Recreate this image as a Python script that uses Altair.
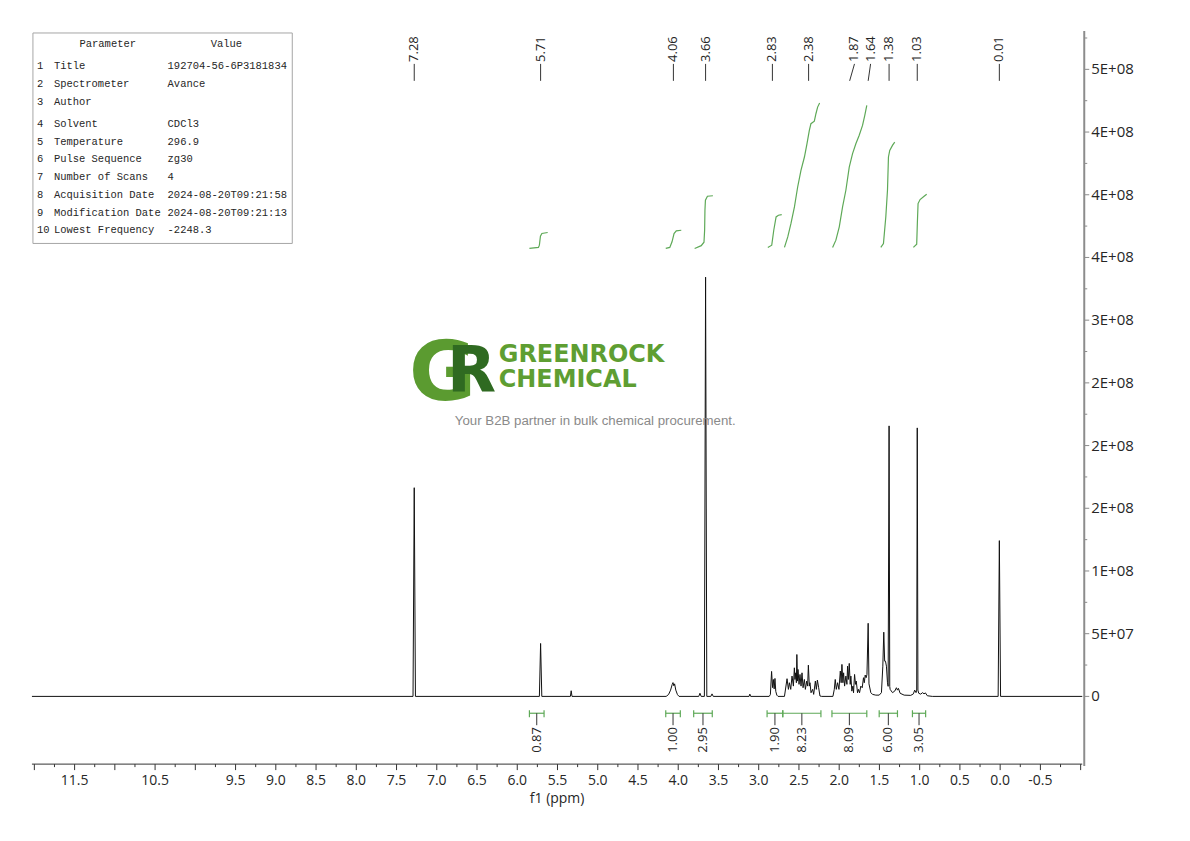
import pandas as pd
import altair as alt

# ---------------- data ----------------
# 1H NMR trace: chemical shift (ppm) and intensity (x1e6)
spec_ppm = [12.03,
            7.295, 7.28, 7.265,
            5.725, 5.71, 5.695,
            5.34, 5.33, 5.32,
            4.15, 4.12, 4.095, 4.075, 4.065, 4.055, 4.045, 4.03, 4.01, 3.99,
            3.745, 3.73, 3.715,
            3.675, 3.66, 3.645,
            3.595, 3.58, 3.565,
            3.12, 3.11, 3.10,
            2.87, 2.855, 2.84, 2.828, 2.818, 2.808, 2.798, 2.788, 2.775, 2.76,
            2.68, 2.648, 2.631, 2.619, 2.602, 2.586, 2.569, 2.557, 2.549, 2.540,
            2.532, 2.526, 2.518, 2.512, 2.499, 2.487, 2.474, 2.462, 2.449, 2.433,
            2.420, 2.404, 2.392, 2.383, 2.371, 2.363, 2.350, 2.330, 2.317, 2.296,
            2.284, 2.271, 2.255, 2.239, 2.218,
            2.078, 2.061, 2.049, 2.036, 2.020, 2.003, 1.986, 1.976, 1.966, 1.954,
            1.945, 1.933, 1.917, 1.904, 1.896, 1.886, 1.875, 1.863, 1.855, 1.843,
            1.830, 1.822, 1.809, 1.797, 1.788, 1.772, 1.760, 1.747, 1.731, 1.714,
            1.698, 1.688, 1.677, 1.665, 1.655, 1.64, 1.630, 1.607, 1.586, 1.545,
            1.503, 1.475, 1.458, 1.446, 1.435, 1.425, 1.413, 1.400, 1.392, 1.38,
            1.372, 1.367, 1.338, 1.310, 1.289, 1.276, 1.264, 1.243, 1.193, 1.111,
            1.078, 1.062, 1.045, 1.037, 1.03, 1.022, 1.012, 0.988, 0.963, 0.946,
            0.929, 0.905, 0.843,
            0.025, 0.01, -0.005,
            -1.02]
spec_int = [0,
            0, 166.4, 0,
            0, 42.2, 0,
            0, 4.5, 0,
            0, 1.5, 5, 9.5, 11, 8.5, 10, 5, 1.5, 0,
            0, 2.5, 0,
            0, 334.3, 0,
            0, 2, 0,
            0, 1.8, 0,
            0, 1.5, 19.9, 7, 13.5, 6, 14.3, 4, 1, 0,
            0, 14.1, 5.6, 10.9, 5.6, 16.2, 8.2, 22.8, 13.5, 18.8,
            10.9, 33.4, 12.2, 21.5, 9.6, 17.5, 8.2, 18.8, 6.9, 13.5,
            5.6, 12.2, 8.2, 24.9, 8.2, 10.9, 2.9, 5.6, 1.6, 12.2,
            5.6, 13.0, 6.9, 0.3, 0,
            0, 5.6, 13.5, 5.6, 10.9, 5.6, 20.2, 10.9, 25.5, 10.9,
            18.8, 8.2, 16.2, 9.6, 24.1, 13.5, 26.3, 9.6, 16.2, 4.2,
            8.2, 2.9, 17.5, 9.6, 12.2, 2.9, 5.6, 2.9, 8.2, 6.9,
            14.9, 10.9, 17.0, 14.9, 17.5, 58.3, 10, 3, 1.6, 1.0,
            1.0, 3, 24.1, 51.2, 28.1, 28.1, 24.1, 10.9, 8, 215.7,
            8, 5.6, 3, 4.2, 6.9, 5.0, 6.4, 2.5, 1.0, 0.8,
            2, 5, 3, 5, 214.1, 5, 2.5, 1.8, 3, 2,
            2.8, 0.5, 0,
            0, 124.2, 0,
            0]

# integral curves (one id per integrated region)
icurve_id = [1] * 6 + [2] * 6 + [3] * 8 + [4] * 6 + [5] * 14 + [6] * 12 + [7] * 8 + [8] * 7
icurve_ppm = [5.849, 5.737, 5.725, 5.712, 5.694, 5.622,
              4.155, 4.105, 4.077, 4.052, 4.024, 3.962,
              3.796, 3.714, 3.680, 3.672, 3.668, 3.662, 3.637, 3.569,
              2.887, 2.838, 2.813, 2.784, 2.755, 2.714,
              2.680, 2.639, 2.599, 2.556, 2.516, 2.475, 2.432, 2.400, 2.371, 2.351, 2.309, 2.289, 2.268, 2.243,
              2.082, 2.041, 1.999, 1.958, 1.917, 1.875, 1.834, 1.793, 1.751, 1.710, 1.682, 1.657,
              1.483, 1.450, 1.421, 1.400, 1.388, 1.372, 1.338, 1.310,
              1.078, 1.037, 1.029, 1.020, 0.995, 0.945, 0.913]
icurve_val = [357.2, 358.0, 359.8, 367.0, 369.1, 369.9,
              357.2, 358.0, 362.5, 369.1, 371.2, 371.7,
              357.2, 359.4, 362.2, 371.7, 387.7, 395.6, 398.8, 399.2,
              358.0, 359.8, 371.7, 382.3, 383.7, 384.2,
              358.0, 366.4, 377.1, 390.3, 406.2, 419.5, 430.1, 440.7, 451.3, 456.7, 458.7, 464.6, 469.9, 473.1,
              358.0, 363.8, 374.4, 390.3, 403.6, 422.1, 432.8, 440.7, 447.4, 455.3, 463.3, 471.2,
              358.0, 361.1, 382.3, 403.6, 430.1, 435.4, 439.4, 442.0,
              358.0, 360.6, 377.1, 393.0, 396.2, 398.8, 400.4]

peak_labels = ["7.28", "5.71", "4.06", "3.66", "2.83", "2.38", "1.87", "1.64", "1.38", "1.03", "0.01"]
peak_ppm = [7.28, 5.71, 4.06, 3.66, 2.83, 2.38, 1.87, 1.64, 1.38, 1.03, 0.01]
peak_label_ppm = [7.28, 5.71, 4.06, 3.66, 2.83, 2.38, 1.81, 1.61, 1.38, 1.03, 0.01]

int_labels = ["0.87", "1.00", "2.95", "1.90", "8.23", "8.09", "6.00", "3.05"]
int_start = [5.849, 4.155, 3.808, 2.896, 2.701, 2.090, 1.503, 1.090]
int_end = [5.667, 3.974, 3.577, 2.701, 2.227, 1.657, 1.276, 0.926]

param_nums = ["1", "2", "3", "4", "5", "6", "7", "8", "9", "10"]
param_names = ["Title", "Spectrometer", "Author", "Solvent", "Temperature",
               "Pulse Sequence", "Number of Scans", "Acquisition Date",
               "Modification Date", "Lowest Frequency"]
param_values = ["192704-56-6P3181834", "Avance", "", "CDCl3", "296.9", "zg30",
                "4", "2024-08-20T09:21:58", "2024-08-20T09:21:13", "-2248.3"]

x_major_ticks = [round(12.0 - 0.5 * i, 2) for i in range(27)]
x_minor_ticks = [round(11.75 - 0.5 * i, 2) for i in range(26)]
x_tick_labels = [11.5, 10.5, 9.5, 9.0, 8.5, 8.0, 7.5, 7.0, 6.5, 6.0, 5.5, 5.0,
                 4.5, 4.0, 3.5, 3.0, 2.5, 2.0, 1.5, 1.0, 0.5, 0.0, -0.5]
x_title = "f1 (ppm)"
y_major_ticks = [50 * i for i in range(11)]
y_minor_ticks = [25 + 50 * i for i in range(11)]
y_tick_labels = ["0", "5E+07", "1E+08", "2E+08", "2E+08", "2E+08", "3E+08",
                 "4E+08", "4E+08", "4E+08", "5E+08"]

logo_g, logo_r = "G", "R"
logo_line1, logo_line2 = "GREENROCK", "CHEMICAL"
tagline = "Your B2B partner in bulk chemical procurement."

# ---------------- tables ----------------
spec_df = pd.DataFrame({"ppm": spec_ppm, "val": spec_int, "idx": range(len(spec_ppm))})
icurve_df = pd.DataFrame({"ppm": icurve_ppm, "val": icurve_val, "cid": icurve_id,
                          "idx": range(len(icurve_ppm))})
peak_df = pd.DataFrame({"ppm": peak_ppm, "lppm": peak_label_ppm, "label": peak_labels})
int_df = pd.DataFrame({"start": int_start, "end": int_end, "label": int_labels})
int_df["mid"] = (int_df["start"] + int_df["end"]) / 2
ends_df = pd.DataFrame({"ppm": int_start + int_end})
xmajor_df = pd.DataFrame({"ppm": x_major_ticks})
xminor_df = pd.DataFrame({"ppm": x_minor_ticks})
xlab_df = pd.DataFrame({"ppm": x_tick_labels, "label": [f"{v:.1f}" for v in x_tick_labels]})
ymajor_df = pd.DataFrame({"val": y_major_ticks, "label": y_tick_labels})
yminor_df = pd.DataFrame({"val": y_minor_ticks})
one = pd.DataFrame({"k": [0]})

FONT = "Open Sans"
TXT = "#262626"
GREEN = "#5ea957"
XAX = "#333333"
YAX = "#8c8c8c"
W, H = 1053, 733

xscale = alt.Scale(domain=[-1.02, 12.03], reverse=True, nice=False, zero=False)
yscale = alt.Scale(domain=[-54, 529], nice=False, zero=False)


def X(field):
    return alt.X(field, scale=xscale, axis=None)


def Y(field):
    return alt.Y(field, scale=yscale, axis=None)


def label_text(txt, x, y, size, color, font, weight="normal", align="left", baseline="alphabetic"):
    return alt.Chart(one).mark_text(font=font, fontSize=size, fontWeight=weight, color=color,
                                    align=align, baseline=baseline).encode(
        x=alt.value(x), y=alt.value(y), text=alt.value(txt))


# ---------------- logo watermark ----------------
logo = [
    label_text(logo_g, 378, 368, 82, "#5b9b30", "DejaVu Sans", "bold"),
    label_text(logo_r, 416, 360, 64, "#2f6a21", "DejaVu Sans", "bold"),
    label_text(logo_line1, 468, 330, 24, "#5e9e32", "DejaVu Sans", "bold"),
    label_text(logo_line2, 468, 355, 24, "#5e9e32", "DejaVu Sans", "bold"),
    label_text(tagline, 424, 389, 13.3, "#8a8a8a", "Liberation Sans", baseline="middle"),
]

# ---------------- parameter table ----------------
MONO = "Liberation Mono"
TFS = 10.5
table = [
    alt.Chart(one).mark_rect(fill="white", stroke="#a6a6a6", strokeWidth=1).encode(
        x=alt.value(1), x2=alt.value(261), y=alt.value(0), y2=alt.value(211)),
    label_text("Parameter", 76, 11, TFS, TXT, MONO, align="center", baseline="middle"),
    label_text("Value", 195, 11, TFS, TXT, MONO, align="center", baseline="middle"),
]
for rows, y0, lh in [(slice(0, 3), 33, 18.0), (slice(3, 10), 91, 17.83)]:
    for col_txt, cx in [(param_nums, 5), (param_names, 22), (param_values, 136)]:
        lines = [t for t in col_txt[rows]]
        if not any(lines):
            continue
        table.append(alt.Chart(one).mark_text(font=MONO, fontSize=TFS, color=TXT, align="left",
                                              baseline="middle", lineBreak="\n", lineHeight=lh).encode(
            x=alt.value(cx), y=alt.value(y0), text=alt.value("\n".join(lines))))

# ---------------- axes drawn from the tick lists ----------------
axes = [
    alt.Chart(one).mark_rule(color=XAX, strokeWidth=1).encode(
        x=alt.value(0), x2=alt.value(W), y=alt.value(H)),
    alt.Chart(xmajor_df).mark_rule(color=XAX, strokeWidth=1).encode(
        x=X("ppm:Q"), y=alt.value(H), y2=alt.value(H + 6)),
    alt.Chart(xminor_df).mark_rule(color=XAX, strokeWidth=1).encode(
        x=X("ppm:Q"), y=alt.value(H), y2=alt.value(H + 3)),
    alt.Chart(xlab_df).mark_text(font=FONT, fontSize=14, color=TXT, baseline="middle").encode(
        x=X("ppm:Q"), y=alt.value(H + 17), text="label:N"),
    label_text(x_title, W / 2, H + 35, 14, TXT, FONT, align="center", baseline="middle"),
    alt.Chart(one).mark_rule(color=YAX, strokeWidth=2).encode(
        x=alt.value(W + 2), y=alt.value(-2), y2=alt.value(H + 2)),
    alt.Chart(ymajor_df).mark_rule(color=YAX, strokeWidth=1).encode(
        y=Y("val:Q"), x=alt.value(W + 2), x2=alt.value(W + 7)),
    alt.Chart(yminor_df).mark_rule(color=YAX, strokeWidth=1).encode(
        y=Y("val:Q"), x=alt.value(W + 2), x2=alt.value(W + 5)),
    alt.Chart(ymajor_df).mark_text(font=FONT, fontSize=15, color=TXT, align="left",
                                   baseline="middle").encode(
        y=Y("val:Q"), x=alt.value(W + 9), text="label:N"),
]

# ---------------- spectrum and annotations ----------------
spectrum = alt.Chart(spec_df).mark_line(color="#111111", strokeWidth=1).encode(
    x=X("ppm:Q"), y=Y("val:Q"), order="idx:Q")

integrals = alt.Chart(icurve_df).mark_line(color=GREEN, strokeWidth=1.2).encode(
    x=X("ppm:Q"), y=Y("val:Q"), detail="cid:N", order="idx:Q")

peak_lines = alt.Chart(peak_df).mark_rule(color="#333333", strokeWidth=1).encode(
    x=X("ppm:Q"), x2="lppm:Q", y=alt.value(48), y2=alt.value(31))
peak_text = alt.Chart(peak_df).mark_text(font=FONT, fontSize=13, color=TXT, angle=270,
                                         align="left", baseline="middle").encode(
    x=X("lppm:Q"), y=alt.value(29), text="label:N")

brackets = alt.Chart(int_df).mark_rule(color=GREEN, strokeWidth=1.2).encode(
    x=X("start:Q"), x2="end:Q", y=alt.value(682))
bracket_ends = alt.Chart(ends_df).mark_rule(color=GREEN, strokeWidth=1.2).encode(
    x=X("ppm:Q"), y=alt.value(679), y2=alt.value(686))
bracket_mid = alt.Chart(int_df).mark_rule(color="#333333", strokeWidth=1).encode(
    x=X("mid:Q"), y=alt.value(682), y2=alt.value(694))
bracket_text = alt.Chart(int_df).mark_text(font=FONT, fontSize=13, color=TXT, angle=270,
                                           align="right", baseline="middle").encode(
    x=X("mid:Q"), y=alt.value(696), text="label:N")

chart = alt.layer(
    spectrum, *logo, *table, *axes, integrals, peak_lines, peak_text,
    brackets, bracket_ends, bracket_mid, bracket_text
).properties(
    width=W, height=H,
    padding={"left": 24, "top": 24, "right": 100, "bottom": 60},
    autosize=alt.AutoSizeParams(type="none"),
).configure_view(stroke=None)

chart.save("out.html", embed_options={"renderer": "svg", "actions": False})
